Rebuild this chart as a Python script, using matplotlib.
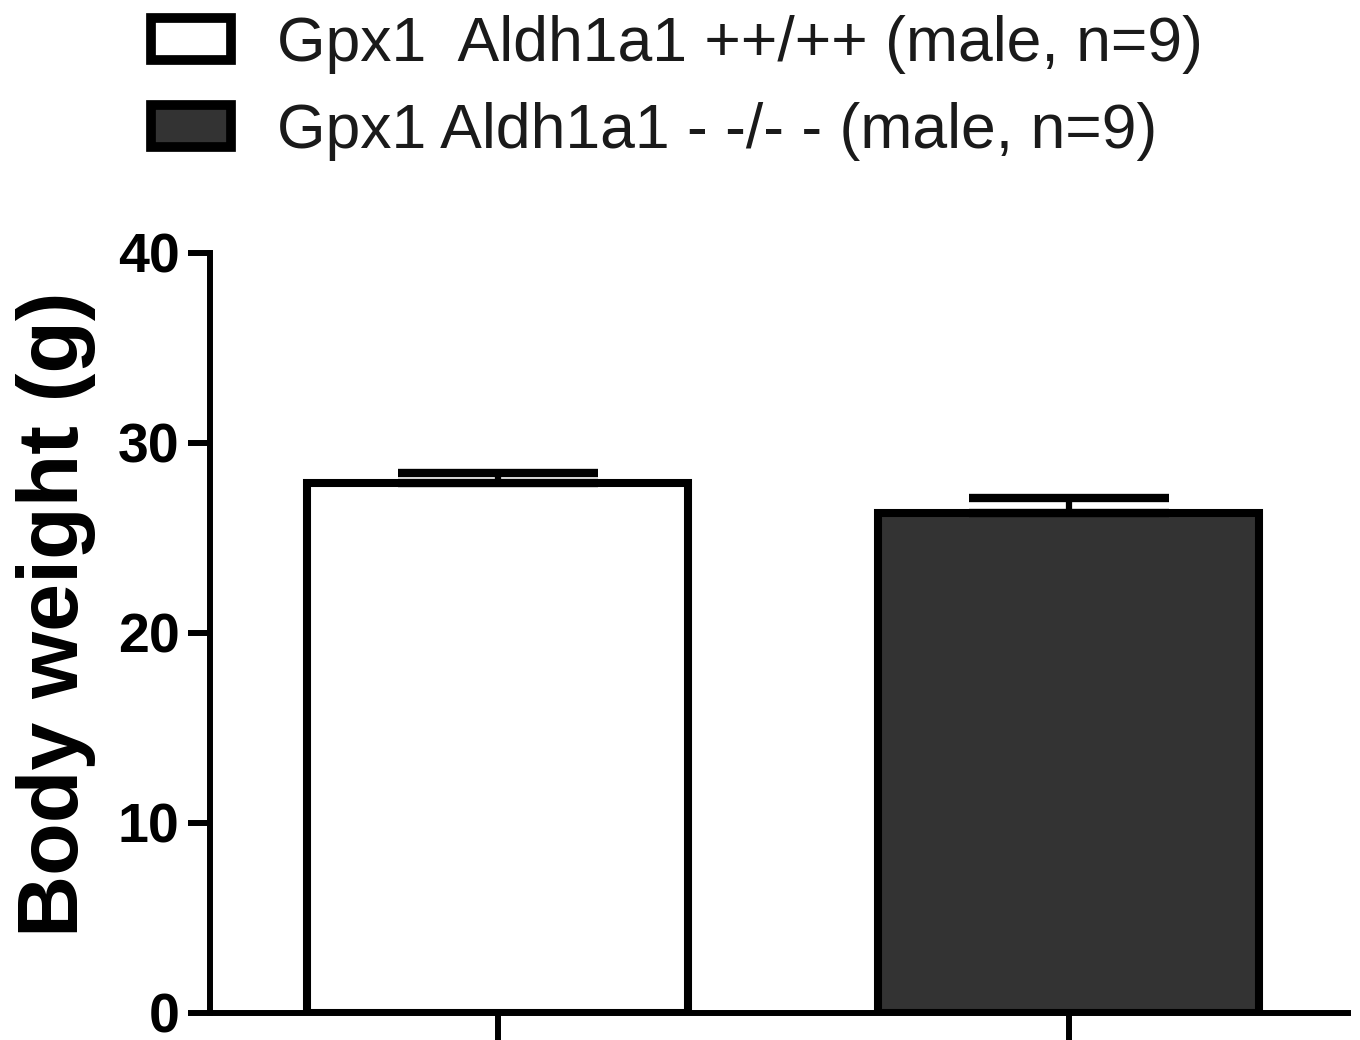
import matplotlib
matplotlib.use("Agg")
import matplotlib.pyplot as plt
from matplotlib.patches import Patch

plt.rcParams['font.family'] = ['Liberation Sans', 'DejaVu Sans']

# data
groups = ["Gpx1  Aldh1a1 ++/++ (male, n=9)", "Gpx1 Aldh1a1 - -/- - (male, n=9)"]
weights = [27.9, 26.3]
sem = [0.52, 0.82]
colors = ["white", "#333333"]
yticks = [0, 10, 20, 30, 40]

fig = plt.figure(figsize=(13.6, 10.4), dpi=100)
ax = fig.add_axes([0.1544, 0.026, 0.837, 0.7308])

for i in range(len(groups)):
    ax.bar(i, weights[i], width=0.667, color=colors[i], edgecolor="black",
           linewidth=5.8, zorder=2)
    ax.errorbar(i, weights[i], yerr=[[0], [sem[i]]], fmt="none", ecolor="black",
                elinewidth=4.5, capsize=72, capthick=6, zorder=3)

ax.set_xlim(-0.504, 1.49)
ax.set_ylim(0, 40)
ax.set_yticks(yticks)
ax.set_xticks([0, 1])
ax.set_xticklabels([])
for s in ["top", "right"]:
    ax.spines[s].set_visible(False)
for s in ["left", "bottom"]:
    ax.spines[s].set_linewidth(4.3)
ax.tick_params(axis="y", length=16, width=4.3, labelsize=40, pad=6)
ax.tick_params(axis="x", length=20, width=4.3)
for t in ax.get_yticklabels():
    t.set_fontweight("bold")
ax.set_ylabel("Body weight (g)", fontsize=62, fontweight="bold")
ax.yaxis.set_label_coords(-0.1, 0.524)

handles = [Patch(facecolor=c, edgecolor="black", linewidth=7) for c in colors]
fig.legend(handles=handles, labels=groups, loc="upper left",
           bbox_to_anchor=(0.0695, 1.04), frameon=False, fontsize=45,
           handlelength=1.28, handleheight=0.66, handletextpad=0.74,
           labelspacing=0.45, labelcolor="#1a1a1a")

fig.savefig("out.png", dpi=100)
